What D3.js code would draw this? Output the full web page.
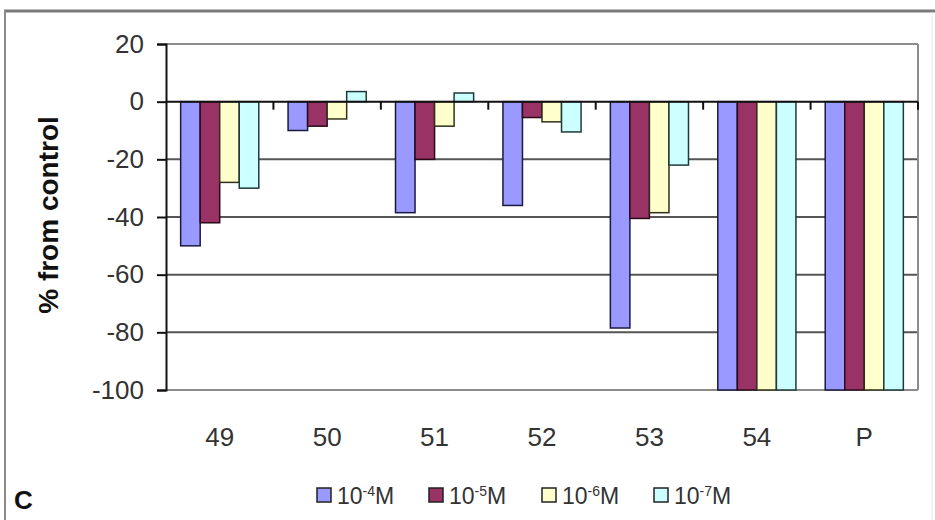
<!DOCTYPE html>
<html>
<head>
<meta charset="utf-8">
<script src="https://cdn.jsdelivr.net/npm/d3@7"></script>
<style>
  html, body { margin: 0; padding: 0; background: #ffffff; }
  svg { display: block; font-family: Arial, "Liberation Sans", sans-serif; }
</style>
</head>
<body>
<svg id="chart" width="935" height="520"></svg>
<script>
// Compounds tested and the reference compound P
const categories = ["49", "50", "51", "52", "53", "54", "P"];
// Concentrations (exponent of 10, molar)
const seriesExp = ["-4", "-5", "-6", "-7"];
// % change from control for each concentration, per compound
const conc1e4 = [-50, -10, -38.5, -36, -78.5, -100, -100];
const conc1e5 = [-42, -8.5, -20, -5.5, -40.5, -100, -100];
const conc1e6 = [-28, -6, -8.5, -7, -38.5, -100, -100];
const conc1e7 = [-30, 3.5, 3, -10.5, -22, -100, -100];
const yTicks = [20, 0, -20, -40, -60, -80, -100];

const seriesValues = [conc1e4, conc1e5, conc1e6, conc1e7];
const colors = ["#9999ff", "#993366", "#ffffcc", "#ccffff"];
const strokes = ["#1a1a40", "#2a0a18", "#30301a", "#1f3a3a"];

const svg = d3.select("#chart");
const W = 935, H = 520;
const plot = { left: 166, right: 918, top: 44, bottom: 390 };

// chart frame
svg.append("rect").attr("x", 0).attr("y", 0).attr("width", W).attr("height", H).attr("fill", "#ffffff");
svg.append("line").attr("x1", 4).attr("x2", W).attr("y1", 11).attr("y2", 11)
  .attr("stroke", "#7a7a7a").attr("stroke-width", 3);
svg.append("line").attr("x1", 5).attr("x2", 5).attr("y1", 10).attr("y2", H)
  .attr("stroke", "#8a8a8a").attr("stroke-width", 2);
svg.append("line").attr("x1", 932).attr("x2", 932).attr("y1", 12).attr("y2", H)
  .attr("stroke", "#e6e6e6").attr("stroke-width", 1);

const gap = 1.5 / 5.5;
const x = d3.scaleBand().domain(categories)
  .range([plot.left, plot.right])
  .paddingInner(gap).paddingOuter(gap / 2);
const xs = d3.scaleBand().domain(d3.range(seriesValues.length))
  .range([0, x.bandwidth()]);
const y = d3.scaleLinear().domain([-100, 20]).range([plot.bottom, plot.top]);
const step = x.step();

// gridlines
const grid = svg.append("g");
grid.selectAll("line").data(yTicks.filter(v => v !== 0))
  .join("line")
  .attr("x1", plot.left).attr("x2", plot.right)
  .attr("y1", d => y(d)).attr("y2", d => y(d))
  .attr("stroke", d => (d === 20 || d === -100 ? "#8c8c8c" : "#555555"))
  .attr("stroke-width", 2);
// right border of plot area
svg.append("line").attr("x1", plot.right).attr("x2", plot.right)
  .attr("y1", plot.top).attr("y2", plot.bottom)
  .attr("stroke", "#8c8c8c").attr("stroke-width", 2);

// bars
const groups = svg.append("g").selectAll("g").data(seriesValues).join("g");
groups.selectAll("rect")
  .data((vals, si) => vals.map((v, ci) => ({ v, ci, si })))
  .join("rect")
  .attr("x", d => x(categories[d.ci]) + xs(d.si))
  .attr("width", xs.bandwidth())
  .attr("y", d => y(Math.max(0, d.v)))
  .attr("height", d => Math.abs(y(d.v) - y(0)))
  .attr("fill", d => colors[d.si])
  .attr("stroke", d => strokes[d.si])
  .attr("stroke-width", 1.5);

// category axis along zero with boundary ticks
const bounds = d3.range(categories.length + 1).map(i => plot.left + i * step);
svg.append("line").attr("x1", plot.left).attr("x2", plot.right)
  .attr("y1", y(0)).attr("y2", y(0)).attr("stroke", "#111").attr("stroke-width", 2);
svg.append("g").selectAll("line").data(bounds.slice(1)).join("line")
  .attr("x1", d => d).attr("x2", d => d)
  .attr("y1", y(0)).attr("y2", y(0) + 8)
  .attr("stroke", "#111").attr("stroke-width", 2);

// value axis
const yAxis = svg.append("g").attr("transform", `translate(${plot.left},0)`)
  .call(d3.axisLeft(y).tickValues(yTicks).tickSize(9).tickPadding(13).tickFormat(d => String(d)));
yAxis.select(".domain").attr("stroke", "#111").attr("stroke-width", 2);
yAxis.selectAll(".tick line").attr("stroke", "#111").attr("stroke-width", 2);
yAxis.selectAll(".tick text").attr("font-size", 26).attr("fill", "#333")
  .attr("font-family", "Arial, 'Liberation Sans', sans-serif");

// category labels
svg.append("g").selectAll("text").data(categories).join("text")
  .attr("x", d => x(d) + x.bandwidth() / 2)
  .attr("y", 446)
  .attr("text-anchor", "middle")
  .attr("font-size", 26).attr("fill", "#333")
  .text(d => d);

// value axis title
svg.append("text")
  .attr("transform", `translate(58,${(plot.top + plot.bottom) / 2 - 2}) rotate(-90)`)
  .attr("text-anchor", "middle")
  .attr("font-size", 28).attr("font-weight", "bold").attr("fill", "#111")
  .text("% from control");

// panel letter
svg.append("text").attr("x", 14).attr("y", 509)
  .attr("font-size", 26).attr("font-weight", "bold").attr("fill", "#111").text("C");

// legend
const legendX = [317, 429, 542, 654];
const leg = svg.append("g").selectAll("g").data(seriesExp).join("g")
  .attr("transform", (d, i) => `translate(${legendX[i]},488)`);
leg.append("rect").attr("x", 0).attr("y", 0).attr("width", 14).attr("height", 14)
  .attr("fill", (d, i) => colors[i]).attr("stroke", "#222").attr("stroke-width", 1.5);
const lt = leg.append("text").attr("x", 20).attr("y", 16)
  .attr("font-size", 23).attr("fill", "#333");
lt.append("tspan").text("10");
lt.append("tspan").attr("font-size", 14).attr("dy", -8).text(d => d);
lt.append("tspan").attr("dy", 8).text("M");
</script>
</body>
</html>
